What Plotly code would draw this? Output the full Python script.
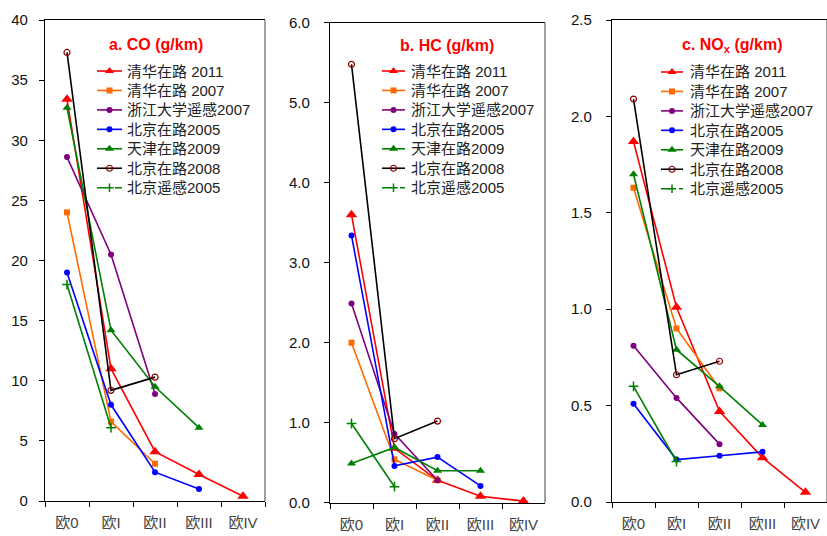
import plotly.graph_objects as go

W, H = 827, 536

categories = ["欧0", "欧I", "欧II", "欧III", "欧IV"]

series_names = ["清华在路 2011", "清华在路 2007", "浙江大学遥感2007", "北京在路2005",
                "天津在路2009", "北京在路2008", "北京遥感2005"]

# CO (g/km)
co_qh2011 = [33.4, 11.0, 4.1, 2.2, 0.4]
co_qh2007 = [24.0, 6.6, 3.1, None, None]
co_zj2007 = [28.6, 20.5, 8.9, None, None]
co_bj2005 = [19.0, 8.0, 2.4, 1.0, None]
co_tj2009 = [32.7, 14.2, 9.5, 6.1, None]
co_bj2008 = [37.3, 9.2, 10.3, None, None]
co_bjrs2005 = [18.0, 6.1, None, None, None]

# HC (g/km)
hc_qh2011 = [3.60, 0.68, 0.28, 0.08, 0.02]
hc_qh2007 = [2.00, 0.54, 0.28, None, None]
hc_zj2007 = [2.49, 0.86, 0.28, None, None]
hc_bj2005 = [3.34, 0.46, 0.57, 0.21, None]
hc_tj2009 = [0.49, 0.69, 0.40, 0.40, None]
hc_bj2008 = [5.48, 0.80, 1.02, None, None]
hc_bjrs2005 = [0.99, 0.20, None, None, None]

# NOx (g/km)
nox_qh2011 = [1.87, 1.01, 0.47, 0.23, 0.05]
nox_qh2007 = [1.63, 0.90, 0.59, None, None]
nox_zj2007 = [0.81, 0.54, 0.30, None, None]
nox_bj2005 = [0.51, 0.22, 0.24, 0.26, None]
nox_tj2009 = [1.70, 0.79, 0.60, 0.40, None]
nox_bj2008 = [2.09, 0.66, 0.73, None, None]
nox_bjrs2005 = [0.60, 0.21, None, None, None]

co_ticks = [0, 5, 10, 15, 20, 25, 30, 35, 40]
hc_ticks = [0.0, 1.0, 2.0, 3.0, 4.0, 5.0, 6.0]
nox_ticks = [0.0, 0.5, 1.0, 1.5, 2.0, 2.5]

panels = [
    dict(title="a. CO (g/km)", data=[co_qh2011, co_qh2007, co_zj2007, co_bj2005, co_tj2009, co_bj2008, co_bjrs2005],
         ticks=co_ticks, fmt="d", xpx=(45, 265), ypx=(20, 501), title_xy=(156, 44),
         leg=(97, 122, 125, 71), standoff=8),
    dict(title="b. HC (g/km)", data=[hc_qh2011, hc_qh2007, hc_zj2007, hc_bj2005, hc_tj2009, hc_bj2008, hc_bjrs2005],
         ticks=hc_ticks, fmt=".1f", xpx=(330, 545), ypx=(22.7, 502.7), title_xy=(447, 45),
         leg=(382, 405, 409, 71), standoff=11),
    dict(title="c. NO<sub>x</sub> (g/km)", data=[nox_qh2011, nox_qh2007, nox_zj2007, nox_bj2005, nox_tj2009, nox_bj2008, nox_bjrs2005],
         ticks=nox_ticks, fmt=".1f", xpx=(612, 827), ypx=(20, 502), title_xy=(732, 46),
         leg=(661, 683, 688, 72), standoff=11),
]

styles = [
    dict(color="#FF0000", marker=dict(symbol="triangle-up", size=10, color="#FF0000")),
    dict(color="#FF6A00", marker=dict(symbol="square", size=6, color="#FF6A00")),
    dict(color="#7F007F", marker=dict(symbol="circle", size=6, color="#7F007F")),
    dict(color="#0000FF", marker=dict(symbol="circle", size=6, color="#0000FF")),
    dict(color="#008000", marker=dict(symbol="triangle-up", size=8, color="#008000")),
    dict(color="#000000", marker=dict(symbol="circle-open", size=6, color="#8B0000", line=dict(width=1.2, color="#8B0000"))),
    dict(color="#008000", marker=dict(symbol="cross-thin", size=7, color="#008000", line=dict(width=1.5, color="#008000"))),
]

FONT = "Liberation Sans, Arial, Noto Sans CJK SC, sans-serif"
LEG_STEP = 19.45

fig = go.Figure()
annotations = []
shapes = []
layout = {}

for i, p in enumerate(panels):
    n = "" if i == 0 else str(i + 1)
    xa, ya = "x" + n, "y" + n
    for s, vals in zip(styles, p["data"]):
        fig.add_trace(go.Scatter(
            x=categories, y=vals, mode="lines+markers", xaxis=xa, yaxis=ya,
            line=dict(color=s["color"], width=1.6), marker=s["marker"],
            showlegend=False, cliponaxis=False))
    x0, x1 = p["xpx"]
    yt, yb = p["ypx"]
    layout["xaxis" + n] = dict(
        domain=[x0 / W, x1 / W], anchor=ya, type="category", categoryorder="array",
        categoryarray=categories, range=[-0.5, 4.5], tickson="boundaries",
        ticks="outside", ticklen=5, tickwidth=1, tickcolor="#000", showline=True,
        linecolor="#000", linewidth=1.3, mirror=True, showgrid=False, zeroline=False,
        automargin=False,
        tickfont=dict(family=FONT, size=15, color="#444"), ticklabelstandoff=8, fixedrange=True)
    layout["yaxis" + n] = dict(
        domain=[1 - yb / H, 1 - yt / H], anchor=xa, range=[p["ticks"][0], p["ticks"][-1]],
        tickvals=p["ticks"], tickformat=p["fmt"], ticks="outside", ticklen=5, tickwidth=1,
        tickcolor="#000", showline=True, linecolor="#000", linewidth=1.3, showgrid=False,
        zeroline=False, automargin=False, tickfont=dict(family=FONT, size=15, color="#111"),
        ticklabelstandoff=p["standoff"], fixedrange=True)
    shapes.append(dict(type="line", xref=xa + " domain", yref=ya + " domain",
                       x0=1, x1=1, y0=0, y1=1, line=dict(color="#808080", width=1.5)))
    tx, ty = p["title_xy"]
    annotations.append(dict(text="<b>" + p["title"] + "</b>", xref="paper", yref="paper",
                            x=tx / W, y=1 - ty / H, xanchor="center", yanchor="middle",
                            showarrow=False, font=dict(family=FONT, size=16, color="#FF0000")))
    # legend keys (pixel-space overlay axes)
    lx0, lx1, ltx, ly0 = p["leg"]
    for k, (s, name) in enumerate(zip(styles, series_names)):
        yy = ly0 + k * LEG_STEP
        fig.add_trace(go.Scatter(x=[lx0, lx1], y=[yy, yy], mode="lines", xaxis="x4", yaxis="y4",
                                 line=dict(color=s["color"], width=1.6,
                                           dash="dash" if k == 6 else "solid"),
                                 showlegend=False, hoverinfo="skip"))
        m = dict(s["marker"])
        m["size"] = min(m["size"], 8) if k != 6 else 6
        fig.add_trace(go.Scatter(x=[(lx0 + lx1) / 2], y=[yy], mode="markers", xaxis="x4", yaxis="y4",
                                 marker=m, showlegend=False, hoverinfo="skip"))
        annotations.append(dict(text=name, xref="paper", yref="paper", x=ltx / W, y=1 - yy / H,
                                xanchor="left", yanchor="middle", showarrow=False,
                                font=dict(family=FONT, size=15, color="#222")))

layout["xaxis4"] = dict(domain=[0, 1], range=[0, W], visible=False, anchor="y4",
                        fixedrange=True, automargin=False)
layout["yaxis4"] = dict(domain=[0, 1], range=[H, 0], visible=False, anchor="x4",
                        fixedrange=True, automargin=False)

fig.update_layout(
    template="none",
    width=W, height=H, margin=dict(l=0, r=0, t=0, b=0, pad=0, autoexpand=False),
    paper_bgcolor="white", plot_bgcolor="rgba(0,0,0,0)",
    showlegend=False, annotations=annotations, shapes=shapes,
    font=dict(family=FONT), **layout)

fig.write_html("out.html", config={"displayModeBar": False},
               post_script="document.body.style.margin='0';document.body.style.overflow='hidden';")
